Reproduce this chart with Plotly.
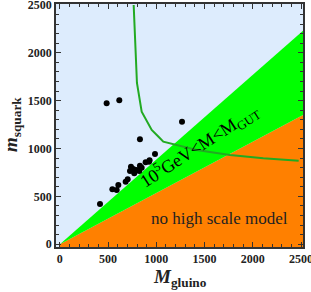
import plotly.graph_objects as go

# black dots: (M_gluino, m_squark)
gluino_mass = [485, 616, 1266, 830, 986, 930, 889, 924, 830, 796, 761, 737, 727, 703, 682, 606, 589, 544, 416, 848, 823, 771]
squark_mass = [1472, 1503, 1280, 1096, 942, 878, 855, 862, 820, 775, 785, 809, 764, 677, 653, 618, 566, 573, 419, 799, 764, 740]

# green contour curve
curve_x = [765, 790, 799, 848, 952, 1038, 1072, 1418, 1763, 2108, 2475]
curve_y = [2500, 2000, 1684, 1384, 1193, 1106, 1071, 984, 932, 897, 872]

# region boundaries
band_x = [0, 2520]
upper_y = [0, 2230]
lower_y = [0, 1350]
floor_y = -30

x_range = [-40, 2520]
y_range = [-30, 2510]

LIGHT = "#DDECFD"
GREEN = "#00FF00"
ORANGE = "#FF8000"
CURVE = "#22AA22"

fig = go.Figure()
fig.add_trace(go.Scatter(
    x=[band_x[0], band_x[0], band_x[1], band_x[1]],
    y=[floor_y, lower_y[0], lower_y[1], floor_y],
    fill="toself", fillcolor=ORANGE, line=dict(width=0), mode="lines",
    hoverinfo="skip", showlegend=False))
fig.add_trace(go.Scatter(
    x=[band_x[0], band_x[1], band_x[1]],
    y=[upper_y[0], upper_y[1], lower_y[1]],
    fill="toself", fillcolor=GREEN, line=dict(width=0), mode="lines",
    hoverinfo="skip", showlegend=False))
fig.add_trace(go.Scatter(x=curve_x, y=curve_y, mode="lines",
                         line=dict(color=CURVE, width=2), showlegend=False))
fig.add_trace(go.Scatter(x=gluino_mass, y=squark_mass, mode="markers",
                         marker=dict(color="black", size=6), showlegend=False))
# invisible trace to anchor the top/right tick axes
fig.add_trace(go.Scatter(x=[band_x[0]], y=[upper_y[0]], xaxis="x2", yaxis="y2",
                         mode="markers", marker=dict(opacity=0), hoverinfo="skip",
                         showlegend=False))

serif = "Liberation Serif"
tick_style = dict(
    showgrid=False, zeroline=False, ticks="inside", ticklen=5, tickwidth=1,
    tickcolor="#333", dtick=500, tick0=0, automargin=False,
    minor=dict(ticks="inside", ticklen=3, dtick=100, tickcolor="#333", tickwidth=1),
)
axis_common = dict(
    **tick_style, showline=True, linecolor="#333", linewidth=1.5, mirror=True,
    ticklabeloverflow="allow",
    tickfont=dict(family=serif, size=12, color="#222", weight="bold"),
)

fig.update_layout(
    xaxis=dict(range=x_range, **axis_common),
    yaxis=dict(range=y_range, **axis_common),
    xaxis2=dict(range=x_range, overlaying="x", side="top", anchor="y",
                showticklabels=False, showline=False, **tick_style),
    yaxis2=dict(range=y_range, overlaying="y", side="right", anchor="x",
                showticklabels=False, showline=False, **tick_style),
)

fig.add_annotation(x=1450, y=1030, xref="x", yref="y", showarrow=False,
                   text="10<sup>5</sup>GeV&lt;M&lt;M<sub>GUT</sub>", textangle=-33,
                   xanchor="center", yanchor="middle",
                   font=dict(family=serif, size=18, color="black"))
fig.add_annotation(x=1650, y=270, xref="x", yref="y", showarrow=False,
                   text="no high scale model",
                   font=dict(family=serif, size=17, color="#222"))
# axis titles
fig.add_annotation(x=180, y=278, xref="paper", yref="paper", showarrow=False,
                   text="<b><i>M</i></b><sub><b>gluino</b></sub>",
                   font=dict(family=serif, size=19, color="#222"))
fig.add_annotation(x=12, y=125, xref="paper", yref="paper", showarrow=False,
                   text="<b><i>m</i></b><sub><b>squark</b></sub>", textangle=-90,
                   font=dict(family=serif, size=19, color="#222"))

fig.update_layout(
    width=311, height=292,
    margin=dict(l=56, r=8, t=4, b=45),
    plot_bgcolor=LIGHT, paper_bgcolor="white",
    font=dict(family=serif),
)
pw, ph = 311 - 56 - 8, 292 - 4 - 45
for ann in fig.layout.annotations:
    if ann.xref == "paper":
        ann.x = (ann.x - 56) / pw
        ann.y = (292 - 45 - ann.y) / ph
        ann.xanchor = "center"
        ann.yanchor = "middle"

fig.write_html("out.html", config={"displayModeBar": False},
               post_script="document.body.style.margin='0';document.body.style.overflow='hidden';")
